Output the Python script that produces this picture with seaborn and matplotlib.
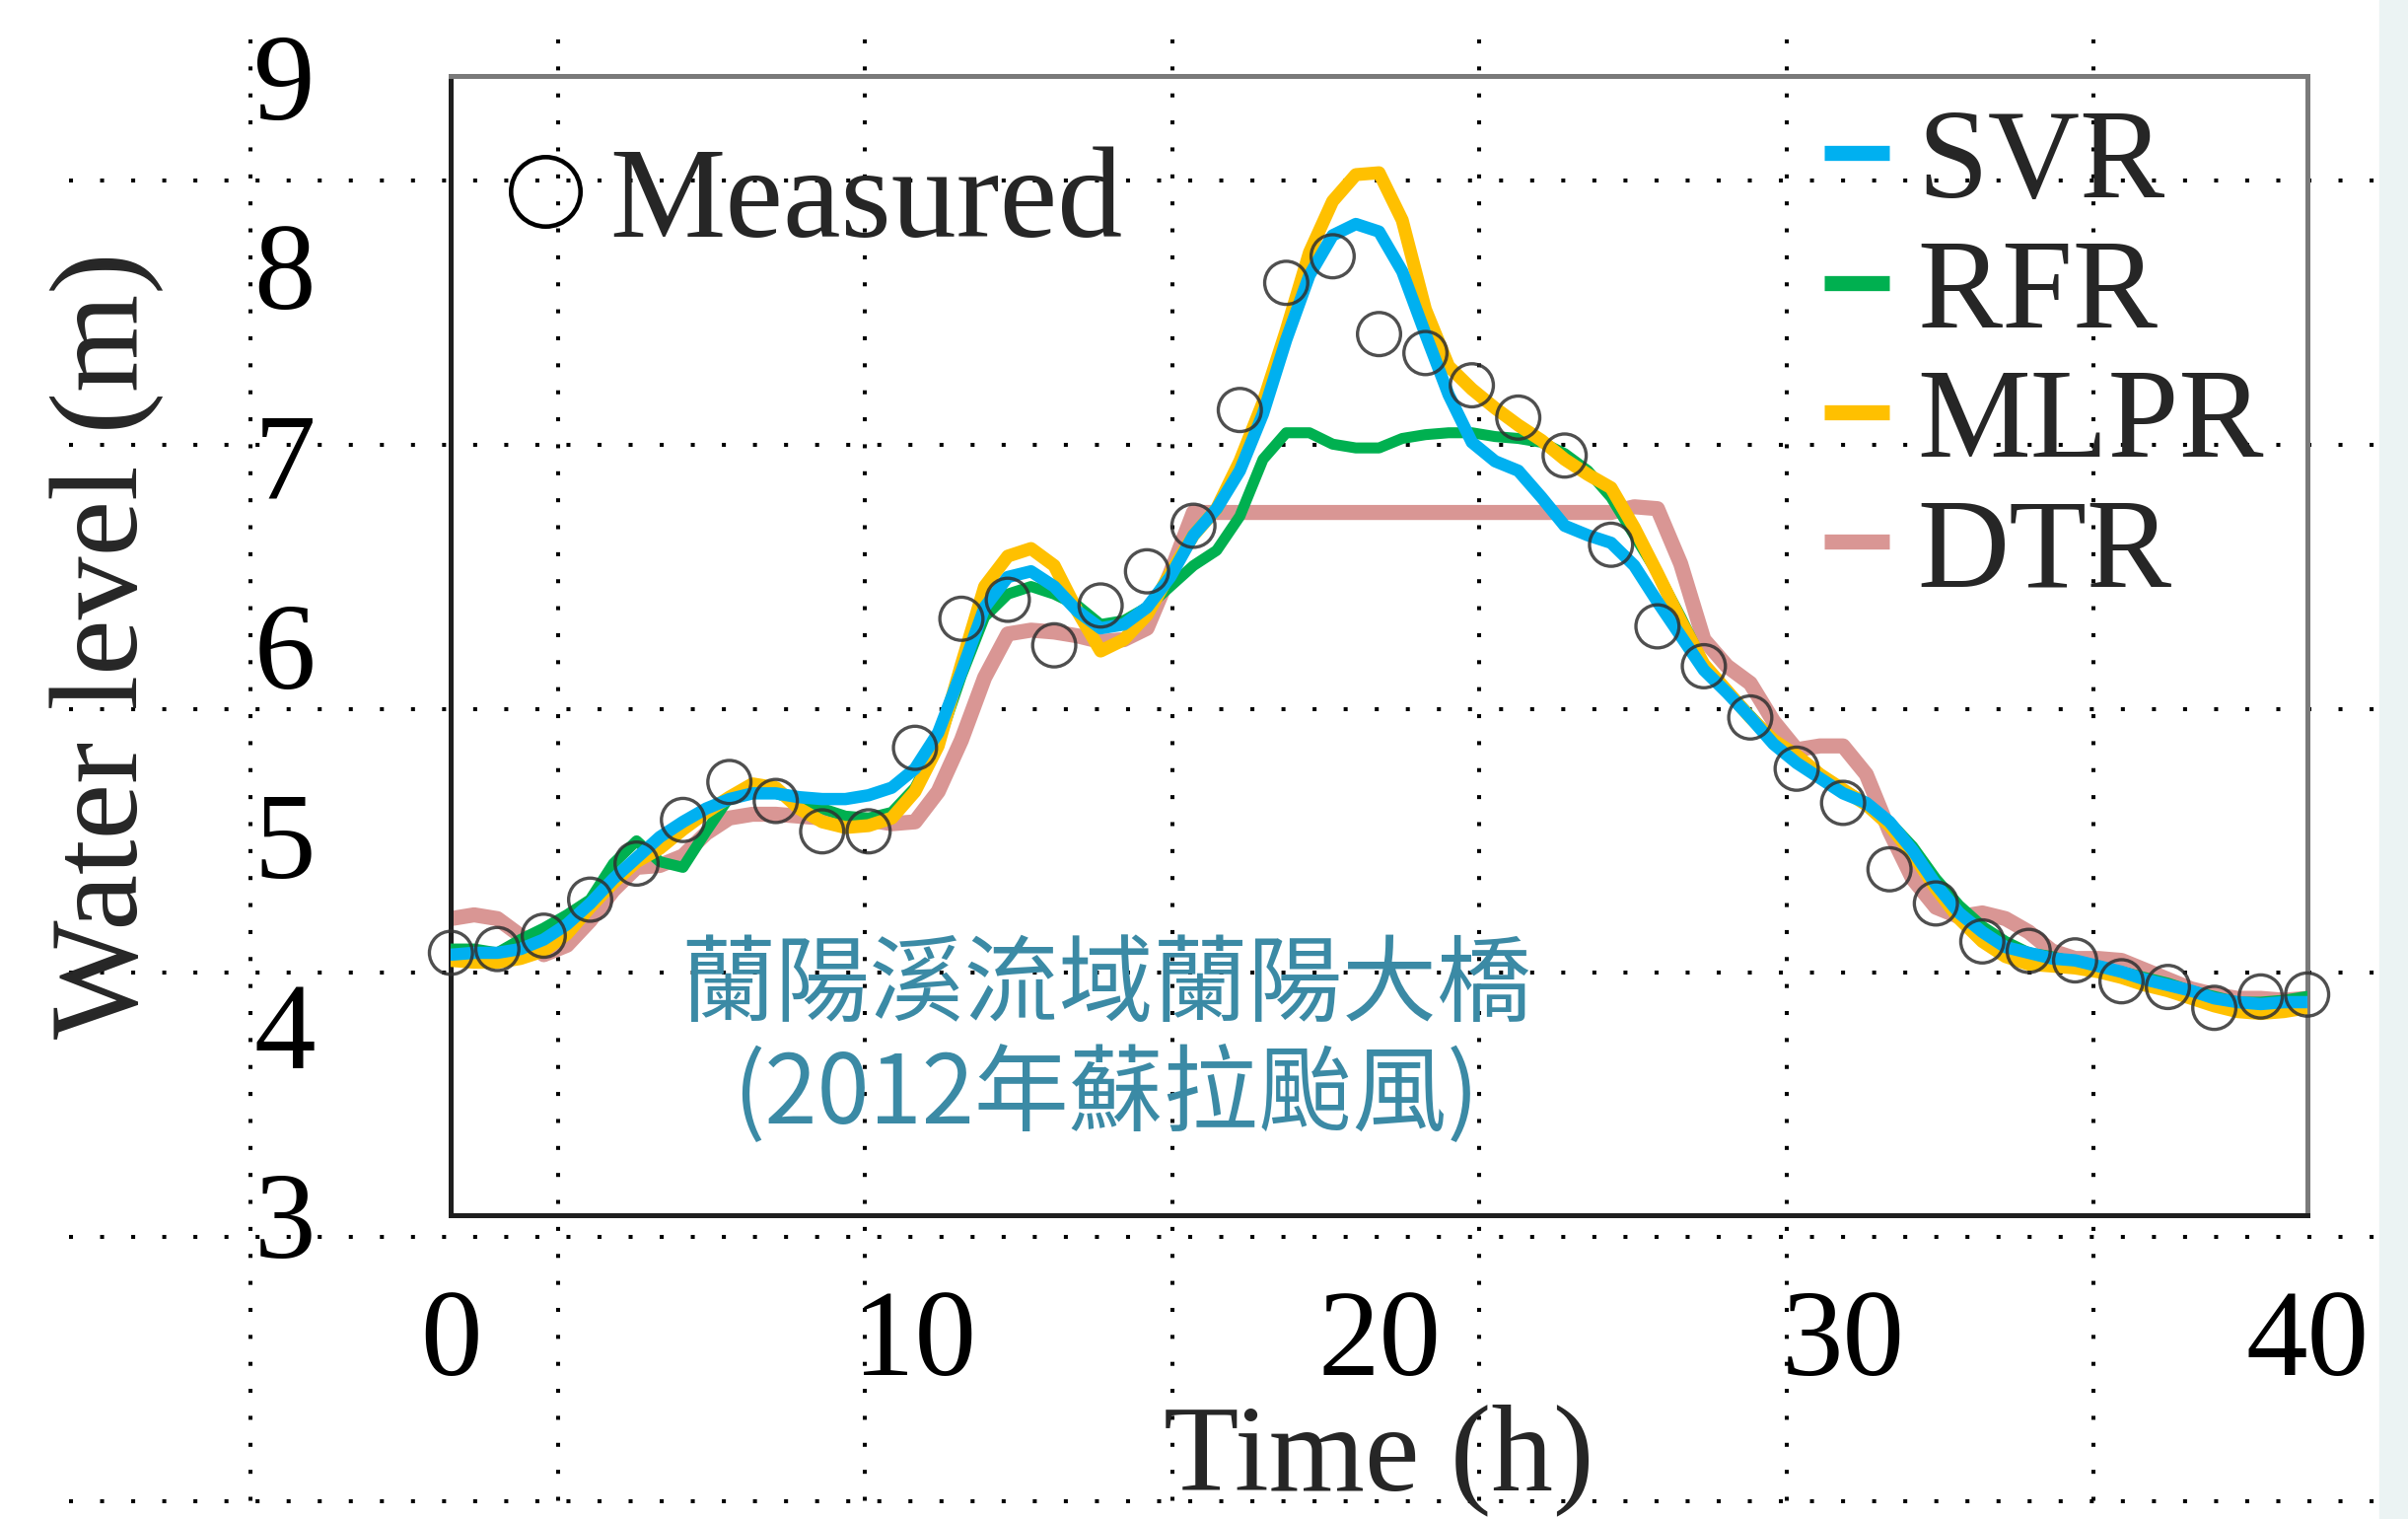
import numpy as np
import matplotlib
matplotlib.use('Agg')
import matplotlib.pyplot as plt
from matplotlib.lines import Line2D
from matplotlib.patches import Rectangle
import seaborn as sns

# 觀測水位 (每小時)
hours = np.arange(0, 41, 1)
measured = [4.38, 4.40, 4.47, 4.66, 4.85, 5.08, 5.28, 5.18, 5.02, 5.02,
            5.46, 6.14, 6.24, 6.00, 6.21, 6.39, 6.63, 7.24, 7.91, 8.05,
            7.64, 7.54, 7.37, 7.20, 7.00, 6.53, 6.10, 5.89, 5.62, 5.35,
            5.17, 4.82, 4.64, 4.44, 4.39, 4.34, 4.23, 4.20, 4.09, 4.15,
            4.16]

# 模型預測 (每半小時讀值)
t_model = np.arange(0, 40.5, 0.5)
svr = [4.37, 4.38, 4.38, 4.40, 4.45, 4.53, 4.64, 4.77, 4.88, 4.99,
       5.07, 5.14, 5.19, 5.22, 5.22, 5.20, 5.19, 5.19, 5.21, 5.25,
       5.35, 5.54, 5.86, 6.20, 6.36, 6.39, 6.31, 6.18, 6.09, 6.11,
       6.20, 6.36, 6.58, 6.72, 6.92, 7.22, 7.61, 7.95, 8.16, 8.22,
       8.18, 7.97, 7.64, 7.32, 7.07, 6.97, 6.92, 6.78, 6.63, 6.58,
       6.54, 6.42, 6.23, 6.05, 5.87, 5.75, 5.62, 5.48, 5.38, 5.30,
       5.22, 5.17, 5.07, 4.92, 4.74, 4.59, 4.49, 4.41, 4.38, 4.35,
       4.34, 4.31, 4.28, 4.24, 4.21, 4.18, 4.14, 4.12, 4.11, 4.12,
       4.12]
rfr = [4.40, 4.40, 4.38, 4.45, 4.51, 4.58, 4.66, 4.85, 4.97, 4.86,
       4.83, 5.02, 5.20, 5.25, 5.22, 5.18, 5.14, 5.10, 5.09, 5.12,
       5.25, 5.48, 5.84, 6.15, 6.27, 6.31, 6.27, 6.21, 6.11, 6.13,
       6.20, 6.31, 6.42, 6.50, 6.68, 6.98, 7.12, 7.12, 7.06, 7.04,
       7.04, 7.09, 7.11, 7.12, 7.12, 7.10, 7.09, 7.07, 7.01, 6.92,
       6.78, 6.58, 6.38, 6.15, 5.90, 5.76, 5.63, 5.50, 5.40, 5.32,
       5.24, 5.17, 5.07, 4.94, 4.77, 4.63, 4.52, 4.44, 4.38, 4.36,
       4.33, 4.31, 4.28, 4.25, 4.22, 4.18, 4.15, 4.12, 4.12, 4.13,
       4.15]
mlpr = [4.34, 4.33, 4.33, 4.35, 4.39, 4.48, 4.62, 4.75, 4.86, 4.93,
        5.03, 5.12, 5.20, 5.27, 5.25, 5.14, 5.07, 5.04, 5.05, 5.09,
        5.23, 5.47, 5.90, 6.31, 6.47, 6.51, 6.42, 6.18, 5.97, 6.03,
        6.16, 6.38, 6.58, 6.72, 6.97, 7.28, 7.66, 8.07, 8.34, 8.48,
        8.49, 8.24, 7.77, 7.47, 7.35, 7.25, 7.16, 7.08, 6.98, 6.90,
        6.83, 6.62, 6.38, 6.13, 5.90, 5.76, 5.62, 5.50, 5.42, 5.32,
        5.24, 5.16, 5.05, 4.90, 4.72, 4.56, 4.44, 4.36, 4.32, 4.31,
        4.30, 4.28, 4.25, 4.21, 4.18, 4.14, 4.10, 4.07, 4.06, 4.07,
        4.09]
dtr = [4.56, 4.58, 4.56, 4.47, 4.37, 4.42, 4.55, 4.71, 4.83, 4.84,
       4.89, 5.01, 5.09, 5.11, 5.11, 5.10, 5.09, 5.08, 5.08, 5.06,
       5.07, 5.23, 5.50, 5.83, 6.06, 6.08, 6.07, 6.05, 6.02, 6.03,
       6.09, 6.38, 6.70, 6.70, 6.70, 6.70, 6.70, 6.70, 6.70, 6.70,
       6.70, 6.70, 6.70, 6.70, 6.70, 6.70, 6.70, 6.70, 6.70, 6.70,
       6.70, 6.73, 6.72, 6.43, 6.03, 5.89, 5.80, 5.60, 5.45, 5.47,
       5.47, 5.32, 5.02, 4.77, 4.62, 4.57, 4.59, 4.56, 4.49, 4.39,
       4.35, 4.35, 4.34, 4.29, 4.24, 4.19, 4.16, 4.14, 4.14, 4.13,
       4.14]

model_names = ['SVR', 'RFR', 'MLPR', 'DTR']
model_values = [svr, rfr, mlpr, dtr]
x_ticks = [0, 10, 20, 30, 40]
y_ticks = [3, 4, 5, 6, 7, 8, 9]
title_lines = ['蘭陽溪流域蘭陽大橋', '(2012年蘇拉颱風)']

# 樣式
colors = ['#00b0f0', '#00b050', '#ffc000', '#d99694']
widths = [9.0, 8.0, 9.5, 11.0]
zorders = [5, 3, 4, 2]

sns.set_style('white')
plt.rcParams['font.family'] = ['Liberation Serif', 'DejaVu Serif']
plt.rcParams['lines.scale_dashes'] = False

fig = plt.figure(figsize=(24.42, 15.40), dpi=100)

# 背景點狀格線 (整張圖, 像素座標)
bg = fig.add_axes([0, 0, 1, 1], zorder=0)
bg.set_xlim(0, 2442)
bg.set_ylim(1540, 0)
bg.axis('off')
for yy in [183 + 267.8 * k for k in range(6)]:
    bg.plot([70, 2410], [yy, yy], color='black', lw=2.9, ls=(0, (2.9, 19.8)))
for xx in [254 + 311.5 * k for k in range(7)]:
    bg.plot([xx, xx], [40, 1540], color='black', lw=2.9, ls=(0, (2.9, 16.8)))
fig.add_artist(Rectangle((0.988, 0), 0.012, 1, transform=fig.transFigure,
                         color='#ebf3f3', zorder=0.5))

ax = fig.add_axes([0.18727, 0.20032, 0.77084, 0.74968], zorder=1)
ax.set_facecolor('none')

for name, vals, c, w, z in zip(model_names, model_values, colors, widths, zorders):
    sns.lineplot(x=t_model, y=vals, ax=ax, color=c, lw=w, zorder=z,
                 errorbar=None, legend=False,
                 solid_joinstyle='round', solid_capstyle='round')

sns.scatterplot(x=hours, y=measured, ax=ax, marker='o', s=990,
                facecolor='none', edgecolor='#303030', linewidth=2.4,
                alpha=0.85, zorder=6, clip_on=False, legend=False)

ax.set_xlim(0, 40)
ax.set_ylim(3, 9)
ax.set_xticks(x_ticks)
ax.set_yticks(y_ticks)
ax.tick_params(direction='in', length=24.5, width=2.2, color='#3a3a3a',
               labelsize=90, labelcolor='black')
ax.tick_params(axis='y', pad=99)
ax.tick_params(axis='x', pad=54)

for s in ['left', 'bottom']:
    ax.spines[s].set_color('#1e1e1e')
    ax.spines[s].set_linewidth(3.6)
for s in ['top', 'right']:
    ax.spines[s].set_color('#7a7a7a')
    ax.spines[s].set_linewidth(3.6)

ax.set_xlabel('Time (h)', fontsize=90, labelpad=2)
ax.set_ylabel('Water level (m)', fontsize=92, labelpad=66)

# 圖例
model_handles = [Line2D([], [], color=c, lw=11, solid_capstyle='butt') for c in colors]
leg_models = ax.legend(model_handles, model_names, loc='upper left',
                       bbox_to_anchor=(0.7399, 0.9714), frameon=False, fontsize=93,
                       handlelength=0.51, handletextpad=0.22, labelspacing=0.10,
                       borderpad=0, borderaxespad=0)
ax.add_artist(leg_models)
meas_handle = Line2D([], [], ls='none', marker='o', ms=50.7, mfc='none',
                     mec='black', mew=3.3)
ax.legend([meas_handle], ['Measured'], loc='upper left',
          bbox_to_anchor=(0.0307, 0.9385), frameon=False, fontsize=95,
          handlelength=0.58, handletextpad=0.2, borderpad=0, borderaxespad=0)

# 測站說明
cjk = ['Noto Sans CJK TC', 'DejaVu Sans']
ax.text(0.3531, 0.2005, title_lines[0], transform=ax.transAxes, ha='center',
        va='center', fontsize=69, color='#3b8aa5', family=cjk)
ax.text(0.3531, 0.1044, title_lines[1], transform=ax.transAxes, ha='center',
        va='center', fontsize=69, color='#3b8aa5', family=cjk)

fig.savefig('out.png', dpi=100)
